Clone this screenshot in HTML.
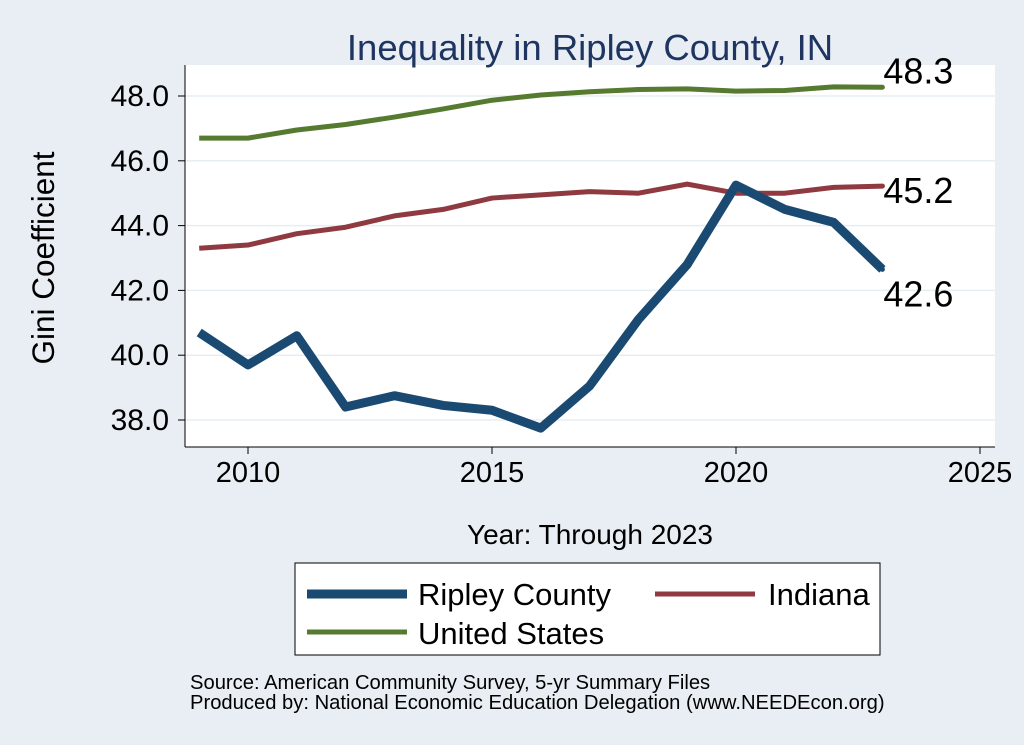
<!DOCTYPE html>
<html><head><meta charset="utf-8"><style>
body{margin:0;background:#e8eef3;font-family:"Liberation Sans",Arial,sans-serif}
svg{display:block}
</style></head><body>
<svg width="1024" height="745" viewBox="0 0 1024 745">
<rect x="0" y="0" width="1024" height="745" fill="#e8eef3"/>
<rect x="185" y="65" width="810" height="382" fill="#fff"/>
<text x="590" y="60" text-anchor="middle" font-size="36.5" fill="#1e3461">Inequality in Ripley County, IN</text>
<g id="grid"></g>
<g id="axes"></g>
<g id="series"></g>
<text x="54" y="258" text-anchor="middle" font-size="31.5" transform="rotate(-90 54 258)">Gini Coefficient</text>
<text x="590" y="544" text-anchor="middle" font-size="28">Year: Through 2023</text>
<g>
<rect x="295" y="563" width="585" height="92" fill="#fff" stroke="#000" stroke-width="1"/>
<line x1="307" y1="594" x2="407" y2="594" stroke="#1a4a72" stroke-width="9"/>
<text x="418" y="605" font-size="31">Ripley County</text>
<line x1="655" y1="594" x2="755" y2="594" stroke="#8f3a40" stroke-width="5"/>
<text x="768" y="605" font-size="31">Indiana</text>
<line x1="307" y1="632" x2="407" y2="632" stroke="#557a30" stroke-width="5"/>
<text x="418" y="644" font-size="31">United States</text>
</g>
<text x="190" y="689" font-size="20.2">Source: American Community Survey, 5-yr Summary Files</text>
<text x="190" y="709" font-size="20.2">Produced by: National Economic Education Delegation (www.NEEDEcon.org)</text>
</svg>
<script>
const years=[2009,2010,2011,2012,2013,2014,2015,2016,2017,2018,2019,2020,2021,2022,2023];
const ripley=[40.7,39.7,40.6,38.4,38.75,38.45,38.3,37.75,39.05,41.1,42.8,45.25,44.5,44.1,42.65];
const indiana=[43.3,43.4,43.75,43.95,44.3,44.5,44.85,44.95,45.05,45.0,45.28,45.0,45.0,45.18,45.22];
const us=[46.7,46.7,46.95,47.12,47.35,47.6,47.87,48.03,48.13,48.2,48.22,48.15,48.17,48.28,48.27];
const yTicks=[38,40,42,44,46,48];
const xTicks=[2010,2015,2020,2025];
const NS="http://www.w3.org/2000/svg";
function X(v){return 248+(v-2010)*48.8;}
function Y(v){return 420-(v-38)*32.4;}
function mk(tag,attrs,parent){const e=document.createElementNS(NS,tag);for(const k in attrs)e.setAttribute(k,attrs[k]);document.getElementById(parent).appendChild(e);return e;}
yTicks.forEach(t=>{
 const g=mk('line',{x1:185,x2:995,y1:Y(t),y2:Y(t),stroke:'#e6eef2','stroke-width':1.5},'grid');
 
 
 const tk=mk('line',{x1:178,x2:185,y1:Y(t),y2:Y(t),stroke:'#000'},'axes');
 
 
 const tx=mk('text',{x:169,y:Y(t)+10,'text-anchor':'end','font-size':30},'axes');
 tx.textContent=t.toFixed(1);
 
 
});
xTicks.forEach(t=>{
 const tk=mk('line',{x1:X(t),x2:X(t),y1:447,y2:454,stroke:'#000'},'axes');
 
 
 const tx=mk('text',{x:X(t),y:482,'text-anchor':'middle','font-size':29},'axes');
 tx.textContent=t;
 
 
});
const ya=mk('line',{x1:185,x2:185,y1:65,y2:447,stroke:'#000'},'axes');


const xa=mk('line',{x1:185,x2:995,y1:447,y2:447,stroke:'#000'},'axes');


function line(vals,color,w,name){
 const p=mk('polyline',{points:vals.map((v,i)=>X(years[i])+','+Y(v)).join(' '),fill:'none',stroke:color,'stroke-width':w,'stroke-linejoin':'round'},'series');
 
 
 const last=vals[vals.length-1];
 const c=mk('circle',{cx:X(years[years.length-1]),cy:Y(last),r:2.5,fill:color},'series');
 
 
}
line(us,'#557a30',5,'line-us');
line(indiana,'#8f3a40',5,'line-indiana');
line(ripley,'#1a4a72',9,'line-ripley');
function lab(v,dy,name){
 const t=mk('text',{x:X(2023)+1,y:Y(v)+dy,'font-size':36},'series');
 t.textContent=v.toFixed(1);
 
 
}
lab(us[us.length-1],-4,'label-us-end');
lab(indiana[indiana.length-1],17,'label-indiana-end');
lab(ripley[ripley.length-1],37,'label-ripley-end');
</script>
</body></html>
